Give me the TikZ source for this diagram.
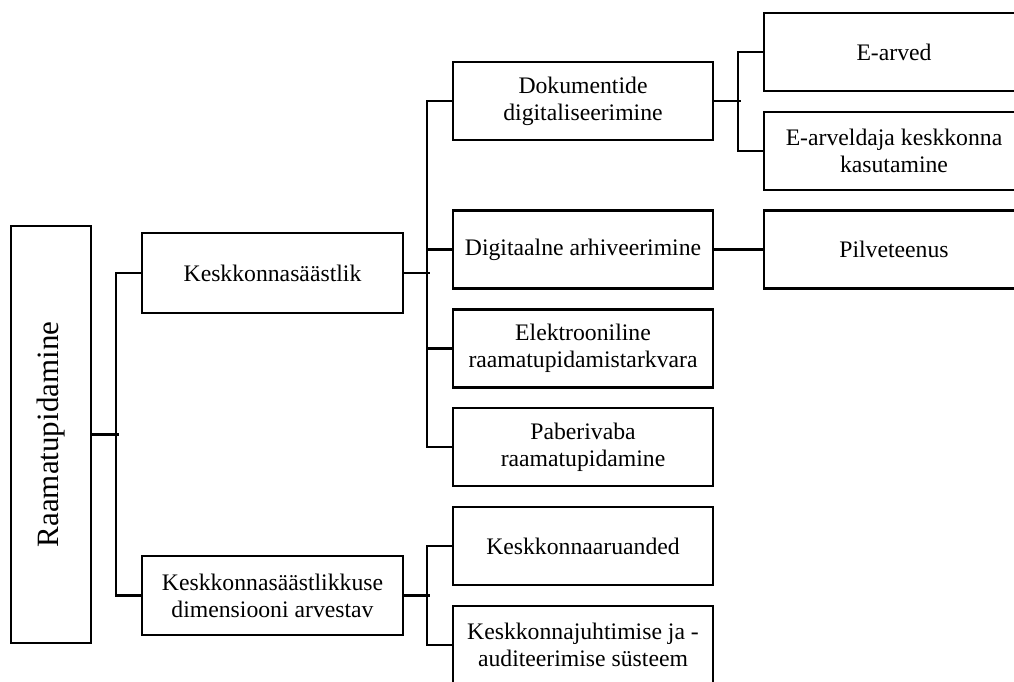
\documentclass[tikz,border=0pt]{standalone}
\usepackage{fontspec}
\setmainfont{Liberation Serif}
\usetikzlibrary{positioning}

\tikzset{
  box/.style={draw, line width=2.2pt, align=center, minimum width=260pt, minimum height=78pt,
    inner sep=2pt, font=\fontsize{23.7}{27}\selectfont},
  connector/.style={draw, line width=2.2pt, line cap=rect}
}

\begin{document}
\begin{tikzpicture}[x=1pt, y=-1pt, line width=2.2pt]
    \useasboundingbox (0,0) rectangle (1014,682);
    \clip (0,0) rectangle (1014,682);

    % root
    \node [box, minimum width=80pt, minimum height=417pt] (root) at (51,434.5) {};
    \node [rotate=90, font=\fontsize{31}{36}\selectfont] (rootlabel) at (root.center) {Raamatupidamine};

    % second level
    \node [box, minimum width=261pt, minimum height=80pt] (kes)  at (272.5,273)   {Keskkonnasäästlik};
    \node [box, minimum width=261pt, minimum height=79pt] (dim)  at (272.5,595.5) {Keskkonnasäästlikkuse\\dimensiooni arvestav};

    % third level
    \node [box] (dok)  at (583,101)   {Dokumentide\\digitaliseerimine};
    \node [box] (arh)  at (583,249.5) {Digitaalne arhiveerimine};
    \node [box] (elek) at (583,348.5) {Elektrooniline\\raamatupidamistarkvara};
    \node [box] (pab)  at (583,447)   {Paberivaba\\raamatupidamine};
    \node [box] (aru)  at (583,546)   {Keskkonnaaruanded};
    \node [box] (juh)  at (583,645)   {Keskkonnajuhtimise ja -\\auditeerimise süsteem};

    % fourth level
    \node [box] (earv) at (894,52)    {E-arved};
    \node [box] (eark) at (894,151)   {E-arveldaja keskkonna\\kasutamine};
    \node [box] (pilv) at (894,249.5) {Pilveteenus};

    % root branches
    \path [connector] (root.east) -- ++(26,0);
    \path [connector] (kes.west) -- ++(-25,0) |- (dim.west);

    % Keskkonnasäästlik branches
    \path [connector] (kes.east) -- ++(25,0);
    \path [connector] (dok.west) -- ++(-25,0) |- (pab.west);
    \foreach \n in {arh,elek}
        \path [connector] (\n.west) -- ++(-25,0);

    % dimensiooni branches
    \path [connector] (dim.east) -- ++(25,0);
    \path [connector] (aru.west) -- ++(-25,0) |- (juh.west);

    % fourth level links
    \path [connector] (dok.east) -- ++(26,0);
    \path [connector] (earv.west) -- ++(-25,0) |- (eark.west);
    \path [connector] (arh.east) -- (pilv.west);
\end{tikzpicture}
\end{document}
